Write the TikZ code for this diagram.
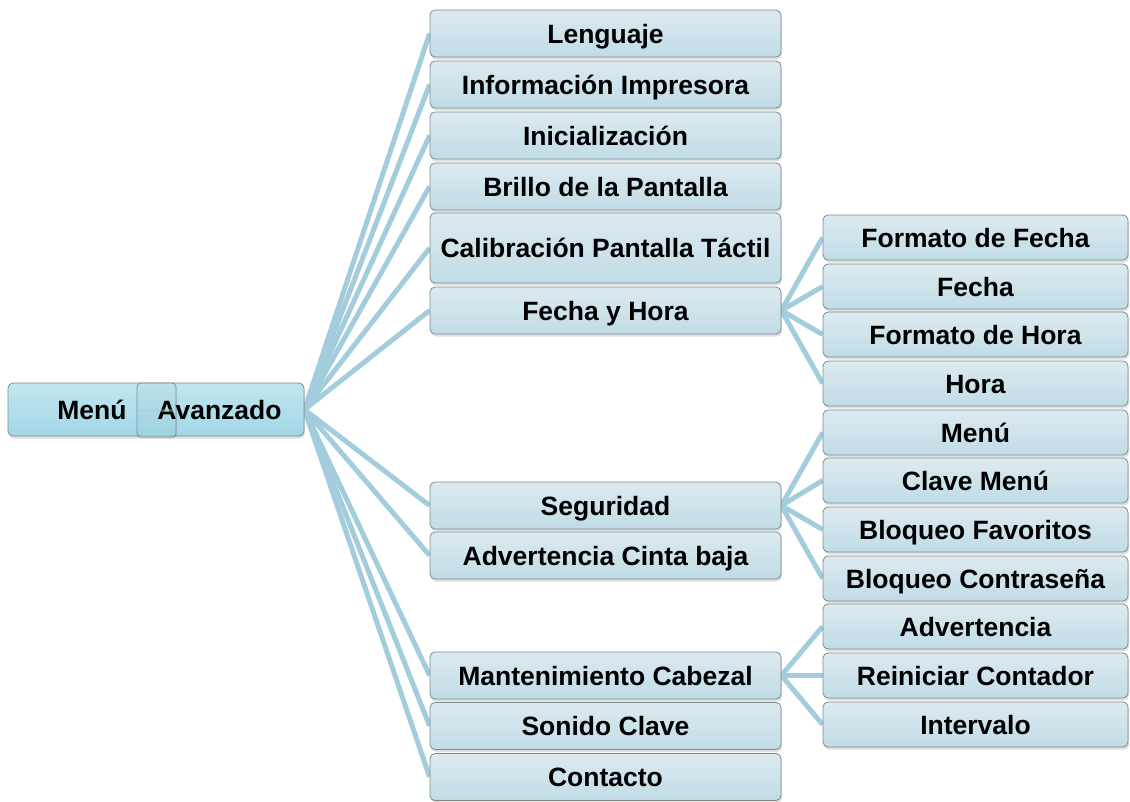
\documentclass[tikz,border=0pt]{standalone}
\usepackage{fontspec}
\setmainfont{Liberation Sans}
\usetikzlibrary{shadows}
\definecolor{connc}{HTML}{A3CDDD}
\definecolor{boxtop}{HTML}{DDEAEF}
\definecolor{boxbot}{HTML}{C0DCE6}
\definecolor{roottop}{HTML}{C2E6F0}
\definecolor{rootbot}{HTML}{A2D7E7}
\definecolor{edgec}{HTML}{7D8B91}
\pgfdeclarelayer{bg}
\pgfsetlayers{bg,main}
\tikzset{
  txt/.style={font=\fontsize{26.5}{30}\selectfont\bfseries, text=black, text height=19pt, text depth=0pt},
  box/.style={draw=edgec, line width=0.8pt, rounded corners=5pt, top color=boxtop, bottom color=boxbot,
    drop shadow={shadow xshift=1pt, shadow yshift=-2.5pt, opacity=0.25},
    txt, inner sep=0pt, align=center},
  midbox/.style={box, minimum width=351pt, minimum height=47pt},
  subbox/.style={box, minimum width=305pt, minimum height=45pt},
  rootbox/.style={box, top color=roottop, bottom color=rootbot},
  lbl/.style={txt, inner sep=0pt},
  conn/.style={draw=connc, line width=5pt}
}
\begin{document}
\begin{tikzpicture}[x=1pt,y=-1pt]
\useasboundingbox (0,0) rectangle (1130,801);
% root
\node[rootbox, minimum width=296pt, minimum height=53pt] (root) at (156,409.5) {};
\node[draw=edgec, line width=0.8pt, rounded corners=4pt, top color=roottop, bottom color=rootbot, fill opacity=0.55,
      drop shadow={shadow xshift=1pt, shadow yshift=-2pt, opacity=0.12},
      minimum width=39pt, minimum height=54pt, inner sep=0pt] (rootin) at (156.5,410) {};
\node[lbl] (menu) at (92,409.5) {Menú};
\node[lbl] (avan) at (219.5,409.5) {Avanzado};
% middle column
\node[midbox] (m1) at (605.5,33.5) {Lenguaje};
\node[midbox] (m2) at (605.5,84.5) {Información Impresora};
\node[midbox] (m3) at (605.5,135.5) {Inicialización};
\node[midbox] (m4) at (605.5,186.5) {Brillo de la Pantalla};
\node[midbox, minimum height=70pt] (m5) at (605.5,248) {Calibración Pantalla Táctil};
\node[midbox] (m6) at (605.5,310.5) {Fecha y Hora};
\node[midbox] (m7) at (605.5,505.5) {Seguridad};
\node[midbox] (m8) at (605.5,555.5) {Advertencia Cinta baja};
\node[midbox] (m9) at (605.5,675.5) {Mantenimiento Cabezal};
\node[midbox] (m10) at (605.5,726) {Sonido Clave};
\node[midbox] (m11) at (605.5,777) {Contacto};
% right column
\node[subbox] (s1) at (975.5,237.5) {Formato de Fecha};
\node[subbox] (s2) at (975.5,286.5) {Fecha};
\node[subbox] (s3) at (975.5,334.5) {Formato de Hora};
\node[subbox] (s4) at (975.5,383.5) {Hora};
\node[subbox] (s5) at (975.5,432.5) {Menú};
\node[subbox] (s6) at (975.5,480.5) {Clave Menú};
\node[subbox] (s7) at (975.5,529.5) {Bloqueo Favoritos};
\node[subbox] (s8) at (975.5,578.5) {Bloqueo Contraseña};
\node[subbox] (s9) at (975.5,626.5) {Advertencia};
\node[subbox] (s10) at (975.5,675.5) {Reiniciar Contador};
\node[subbox] (s11) at (975.5,724.5) {Intervalo};
% connectors
\begin{pgfonlayer}{bg}
\foreach \m in {m1,m2,m3,m4,m5,m6,m7,m8,m9,m10,m11}
  \draw[conn] (root.east) -- (\m.west);
\foreach \s in {s1,s2,s3,s4}
  \draw[conn] (m6.east) -- (\s.west);
\foreach \s in {s5,s6,s7,s8}
  \draw[conn] (m7.east) -- (\s.west);
\foreach \s in {s9,s10,s11}
  \draw[conn] (m9.east) -- (\s.west);
\end{pgfonlayer}
\draw[connc, line width=3pt, opacity=0.4] (rootin.west) -- (rootin.east);
\end{tikzpicture}
\end{document}
